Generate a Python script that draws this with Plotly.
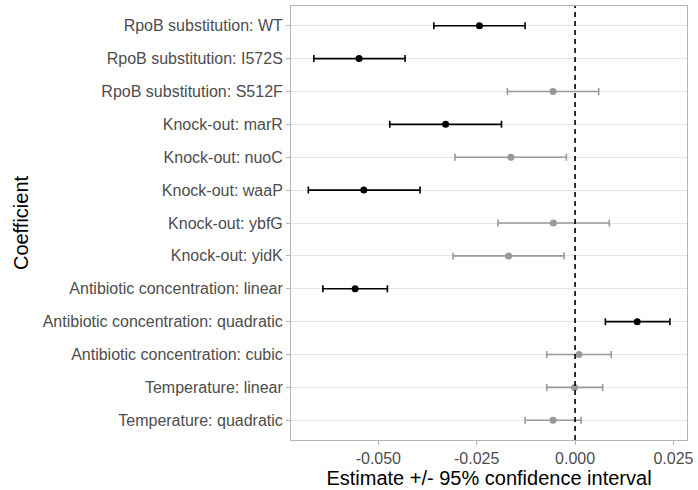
import plotly.graph_objects as go

coefficients = [
    "RpoB substitution: WT",
    "RpoB substitution: I572S",
    "RpoB substitution: S512F",
    "Knock-out: marR",
    "Knock-out: nuoC",
    "Knock-out: waaP",
    "Knock-out: ybfG",
    "Knock-out: yidK",
    "Antibiotic concentration: linear",
    "Antibiotic concentration: quadratic",
    "Antibiotic concentration: cubic",
    "Temperature: linear",
    "Temperature: quadratic",
]
estimate = [-0.0243, -0.0549, -0.0056, -0.0329, -0.0163, -0.0537, -0.0055, -0.0169,
            -0.0559, 0.0158, 0.0010, -0.0001, -0.0056]
lower = [-0.0359, -0.0664, -0.0172, -0.0471, -0.0305, -0.0678, -0.0196, -0.0310,
         -0.0641, 0.0077, -0.0072, -0.0072, -0.0127]
upper = [-0.0127, -0.0432, 0.0060, -0.0187, -0.0022, -0.0394, 0.0087, -0.0028,
         -0.0477, 0.0241, 0.0092, 0.0070, 0.0015]
significant = [True, True, False, True, False, True, False, False,
               True, True, False, False, False]

x_ticks = [-0.050, -0.025, 0.000, 0.025]
x_tick_labels = ["-0.050", "-0.025", "0.000", "0.025"]

fig = go.Figure()
for sig, color in [(True, "#000000"), (False, "#999999")]:
    idx = [i for i, s in enumerate(significant) if s == sig]
    fig.add_trace(go.Scatter(
        x=[estimate[i] for i in idx],
        y=[coefficients[i] for i in idx],
        mode="markers",
        marker=dict(color=color, size=7),
        error_x=dict(
            type="data", symmetric=False,
            array=[upper[i] - estimate[i] for i in idx],
            arrayminus=[estimate[i] - lower[i] for i in idx],
            color=color, thickness=1.6, width=3.5,
        ),
        showlegend=False,
        hoverinfo="skip",
    ))

fig.add_shape(type="line", x0=0, x1=0, xref="x", y0=0, y1=1, yref="paper",
              line=dict(color="black", width=1.6, dash="5px,4px"), layer="above")

fig.update_layout(
    width=698, height=490,
    margin=dict(l=291, r=7, t=5, b=50),
    plot_bgcolor="white", paper_bgcolor="white",
    font=dict(family="Liberation Sans, Arial, sans-serif", color="#4d4d4d", size=16),
    xaxis=dict(
        range=[-0.0722, 0.02845],
        tickvals=x_ticks, ticktext=x_tick_labels,
        showgrid=False, zeroline=False,
        showline=True, mirror=True, linecolor="#b3b3b3", linewidth=1,
        ticks="outside", ticklen=4, tickcolor="#b3b3b3", tickwidth=1,
        tickfont=dict(size=16, color="#4d4d4d"),
        title=dict(text="Estimate +/- 95% confidence interval",
                   font=dict(size=20, color="black"), standoff=2),
    ),
    yaxis=dict(
        type="category", categoryorder="array", categoryarray=coefficients,
        range=[12.6, -0.6],
        showgrid=True, gridcolor="#e5e5e5", gridwidth=1,
        zeroline=False,
        showline=True, mirror=True, linecolor="#b3b3b3", linewidth=1,
        ticks="outside", ticklen=4, tickcolor="#b3b3b3", tickwidth=1,
        tickfont=dict(size=16, color="#4d4d4d"),
        title=dict(text="Coefficient", font=dict(size=20, color="black"), standoff=8),
    ),
)

fig.write_html("out.html")
